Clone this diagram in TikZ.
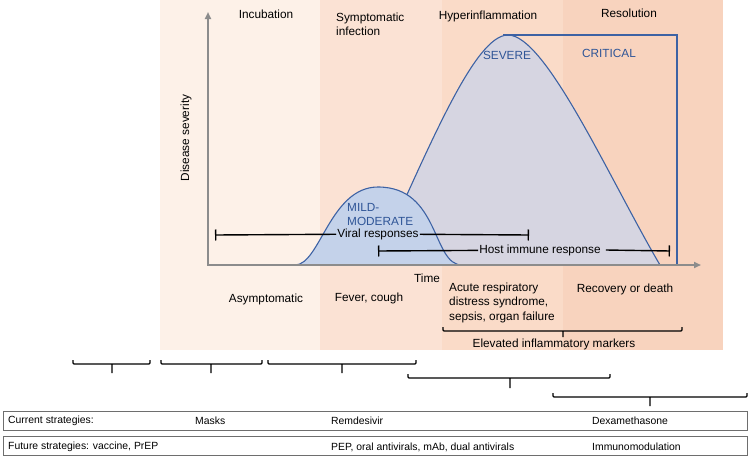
\documentclass[tikz,border=0pt]{standalone}
\usepackage{fontspec}
\setmainfont{Liberation Sans}
\usetikzlibrary{arrows.meta}

\definecolor{incub}{HTML}{FDF1E8}
\definecolor{sympt}{HTML}{FBE2D4}
\definecolor{hyper}{HTML}{FADBC8}
\definecolor{resol}{HTML}{F8D3BE}
\definecolor{mildfill}{HTML}{C4D2EA}
\definecolor{sevfill}{HTML}{D6D5E1}
\definecolor{curveblue}{HTML}{3D62A4}
\definecolor{sevblue}{HTML}{2F5597}
\definecolor{axisgray}{HTML}{8C8C8C}
\definecolor{boxgray}{HTML}{6E6E6E}

\begin{document}
\begin{tikzpicture}[x=1pt,y=-1pt,
    lbl/.style={font=\fontsize{11.8}{14.5}\selectfont,inner sep=1pt},
    sev/.style={lbl,text=sevblue},
    strat/.style={font=\fontsize{10.4}{12}\selectfont,anchor=west,inner sep=0pt},
    stratbox/.style={draw=boxgray,line width=1pt,minimum width=744pt,minimum height=19pt,inner sep=0pt},
    curve/.style={draw=curveblue,line width=1.1pt},
    bar/.style={line width=1.4pt},
    brack/.style={line width=1.2pt,rounded corners=1pt}]
    \useasboundingbox (0,0) rectangle (750,458);

    % stages
    \fill[incub] (160,0) rectangle (320,350);
    \fill[sympt] (320,0) rectangle (442,350);
    \fill[hyper] (442,0) rectangle (563,350);
    \fill[resol] (563,0) rectangle (723,350);

    % severity curves
    \draw[curve,fill=sevfill] (375,265) .. controls (428,150) and (474,35) .. (508,35)
        .. controls (546,35) and (610,180) .. (660,265);
    \draw[curve,fill=mildfill] (295,265) .. controls (320,265) and (330,187) .. (378,187)
        .. controls (440,187) and (432,265) .. (462,265);
    \draw[curve,line width=1.4pt] (503,35) -- (677,35) -- (677,265);

    % axes
    \draw[draw=axisgray,line width=2pt,{Triangle[length=7pt,width=6pt]}-{Triangle[length=7pt,width=6pt]}]
        (208,12) -- (208,265) -- (701,265);

    \node[lbl] (incubation) at (266,14.5) {Incubation};
    \node[lbl,align=left,anchor=west] (symptomatic) at (335,24.5) {Symptomatic\\infection};
    \node[lbl] (hyperinfl) at (488,16) {Hyperinflammation};
    \node[lbl] (resolution) at (629,13.5) {Resolution};
    \node[sev] (severe) at (507,55) {SEVERE};
    \node[sev] (critical) at (609,53) {CRITICAL};
    \node[sev,align=left,anchor=west] (mild) at (346,214.5) {MILD-\\MODERATE};
    \node[lbl,rotate=90] (severity) at (186,138) {Disease severity};

    \node[lbl] (viral) at (378,234) {Viral responses};
    \node[lbl] (host) at (540,250) {Host immune response};
    \coordinate (viralstart) at (215,235);
    \coordinate (viralend) at (529,235);
    \coordinate (hoststart) at (378,251);
    \coordinate (hostend) at (670,251);
    \draw[bar,{Bar[width=11pt]}-] (viralstart) -- (viral);
    \draw[bar,-{Bar[width=11pt]}] (viral) -- (viralend);
    \draw[bar,{Bar[width=11pt]}-] (hoststart) -- (host);
    \draw[bar,-{Bar[width=11pt]}] ([xshift=4pt]host.east) -- (hostend);

    \node[lbl] (time) at (427,278) {Time};
    \node[lbl] (asympt) at (266,299) {Asymptomatic};
    \node[lbl] (fever) at (369,298) {Fever, cough};
    \node[lbl,align=left,anchor=west] (ards) at (448,302.5) {Acute respiratory\\distress syndrome,\\sepsis, organ failure};
    \node[lbl] (recovery) at (625,289) {Recovery or death};
    \node[lbl] (markers) at (554,344) {Elevated inflammatory markers};

    % brackets
    \draw[brack] (443,327) -- (443,331) -- (682,331) -- (682,327) (563,331) -- (563,337);
    \draw[brack] (73,360) -- (73,364) -- (150,364) -- (150,360) (112,364) -- (112,373);
    \draw[brack] (161,360) -- (161,364) -- (262,364) -- (262,360) (211,364) -- (211,373);
    \draw[brack] (268,360) -- (268,364) -- (416,364) -- (416,360) (342,364) -- (342,373);
    \draw[brack] (408,374) -- (408,378) -- (610,378) -- (610,374) (510,378) -- (510,388);
    \draw[brack] (553,393) -- (553,397) -- (747,397) -- (747,393) (650,397) -- (650,406);

    % strategies
    \node[stratbox] (current) at (375,420.5) {};
    \node[stratbox] (future) at (375,446) {};
    \node[strat] (curlabel) at (8,421) {Current strategies:};
    \node[strat] (masks) at (195,421) {Masks};
    \node[strat] (remdesivir) at (331,421) {Remdesivir};
    \node[strat] (dexa) at (592,421) {Dexamethasone};
    \node[strat] (futlabel) at (8,447) {Future strategies: vaccine, PrEP};
    \node[strat] (pep) at (331,447) {PEP, oral antivirals, mAb, dual antivirals};
    \node[strat] (immuno) at (592,447) {Immunomodulation};
\end{tikzpicture}
\end{document}
